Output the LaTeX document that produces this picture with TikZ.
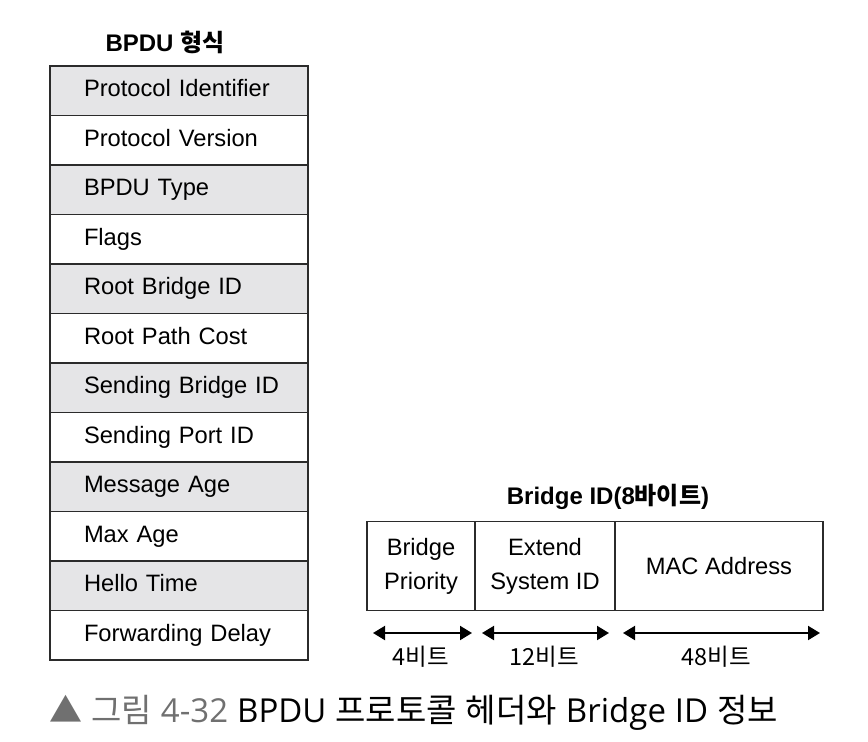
\documentclass[tikz,border=0pt]{standalone}
\usepackage{fontspec}
\setmainfont{Liberation Sans}
\newfontfamily\kr{Noto Sans CJK KR}
\newfontfamily\lat{Open Sans}
\usetikzlibrary{arrows.meta}
\definecolor{bordc}{HTML}{2B2B2B}
\definecolor{shade}{HTML}{E5E5E7}
\definecolor{capgray}{HTML}{707070}
\tikzset{
  rowbox/.style={draw=bordc, line width=1.8pt, rectangle, minimum width=258pt, minimum height=49.5pt,
    inner xsep=4pt, text width=250pt, align=left, text height=17pt, text depth=5pt,
    font=\fontsize{23.7}{28}\selectfont},
  fieldbox/.style={draw=bordc, line width=1.8pt, rectangle, minimum height=89pt, inner sep=0pt,
    align=center, font=\fontsize{23.7}{34}\selectfont},
  sizearrow/.style={line width=2pt, draw=black, {Triangle[length=12pt,width=14pt]}-{Triangle[length=12pt,width=14pt]}},
  sizelabel/.style={font=\kr\fontsize{23.5}{27}\selectfont},
  titletext/.style={font=\bfseries\fontsize{24}{28}\selectfont},
  captext/.style={anchor=base west, inner sep=0pt, font=\kr\fontsize{33}{38}\selectfont}
}
\newcommand{\capsp}{\hspace{9pt}}
\begin{document}
\begin{tikzpicture}[x=1pt,y=-1pt]
\useasboundingbox (0,0) rectangle (868,742);
\node[titletext] (title1) at (165,42) {BPDU {\kr 형식}};
\foreach \t [count=\i] in {Protocol Identifier,Protocol Version,BPDU Type,Flags,Root Bridge ID,Root Path Cost,Sending Bridge ID,Sending Port ID,Message Age,Max Age,Hello Time,Forwarding Delay}{
  \pgfmathtruncatemacro{\odd}{mod(\i,2)}
  \ifnum\odd=1
    \node[rowbox, fill=shade] (r\i) at (179,{66+49.5*(\i-0.5)}) {\hspace*{30pt}\t};
  \else
    \node[rowbox, fill=white] (r\i) at (179,{66+49.5*(\i-0.5)}) {\hspace*{30pt}\t};
  \fi
}
\node[titletext] (title2) at (608,497) {Bridge ID(8{\kr 바이트})};
\node[fieldbox, minimum width=108pt] (b1) at (421,566) {Bridge\\Priority};
\node[fieldbox, minimum width=140pt] (b2) at (545,566) {Extend\\System ID};
\node[fieldbox, minimum width=208pt] (b3) at (719,566) {MAC Address};
\coordinate (a1s) at (373,633);
\coordinate (a1e) at (472,633);
\coordinate (a2s) at (482,633);
\coordinate (a2e) at (609,633);
\coordinate (a3s) at (623,633);
\coordinate (a3e) at (820,633);
\draw[sizearrow] (a1s) -- (a1e);
\draw[sizearrow] (a2s) -- (a2e);
\draw[sizearrow] (a3s) -- (a3e);
\node[sizelabel] (l1) at (421,657) {4비트};
\node[sizelabel] (l2) at (544,657) {12비트};
\node[sizelabel] (l3) at (716,657) {48비트};
\node[captext] (cap) at (49,722)
  {\textcolor{capgray}{▲\capsp 그림\capsp{\lat 4-32}}\capsp{\lat BPDU}\capsp 프로토콜\capsp 헤더와\capsp{\lat Bridge}\capsp{\lat ID}\capsp 정보};
\end{tikzpicture}
\end{document}
